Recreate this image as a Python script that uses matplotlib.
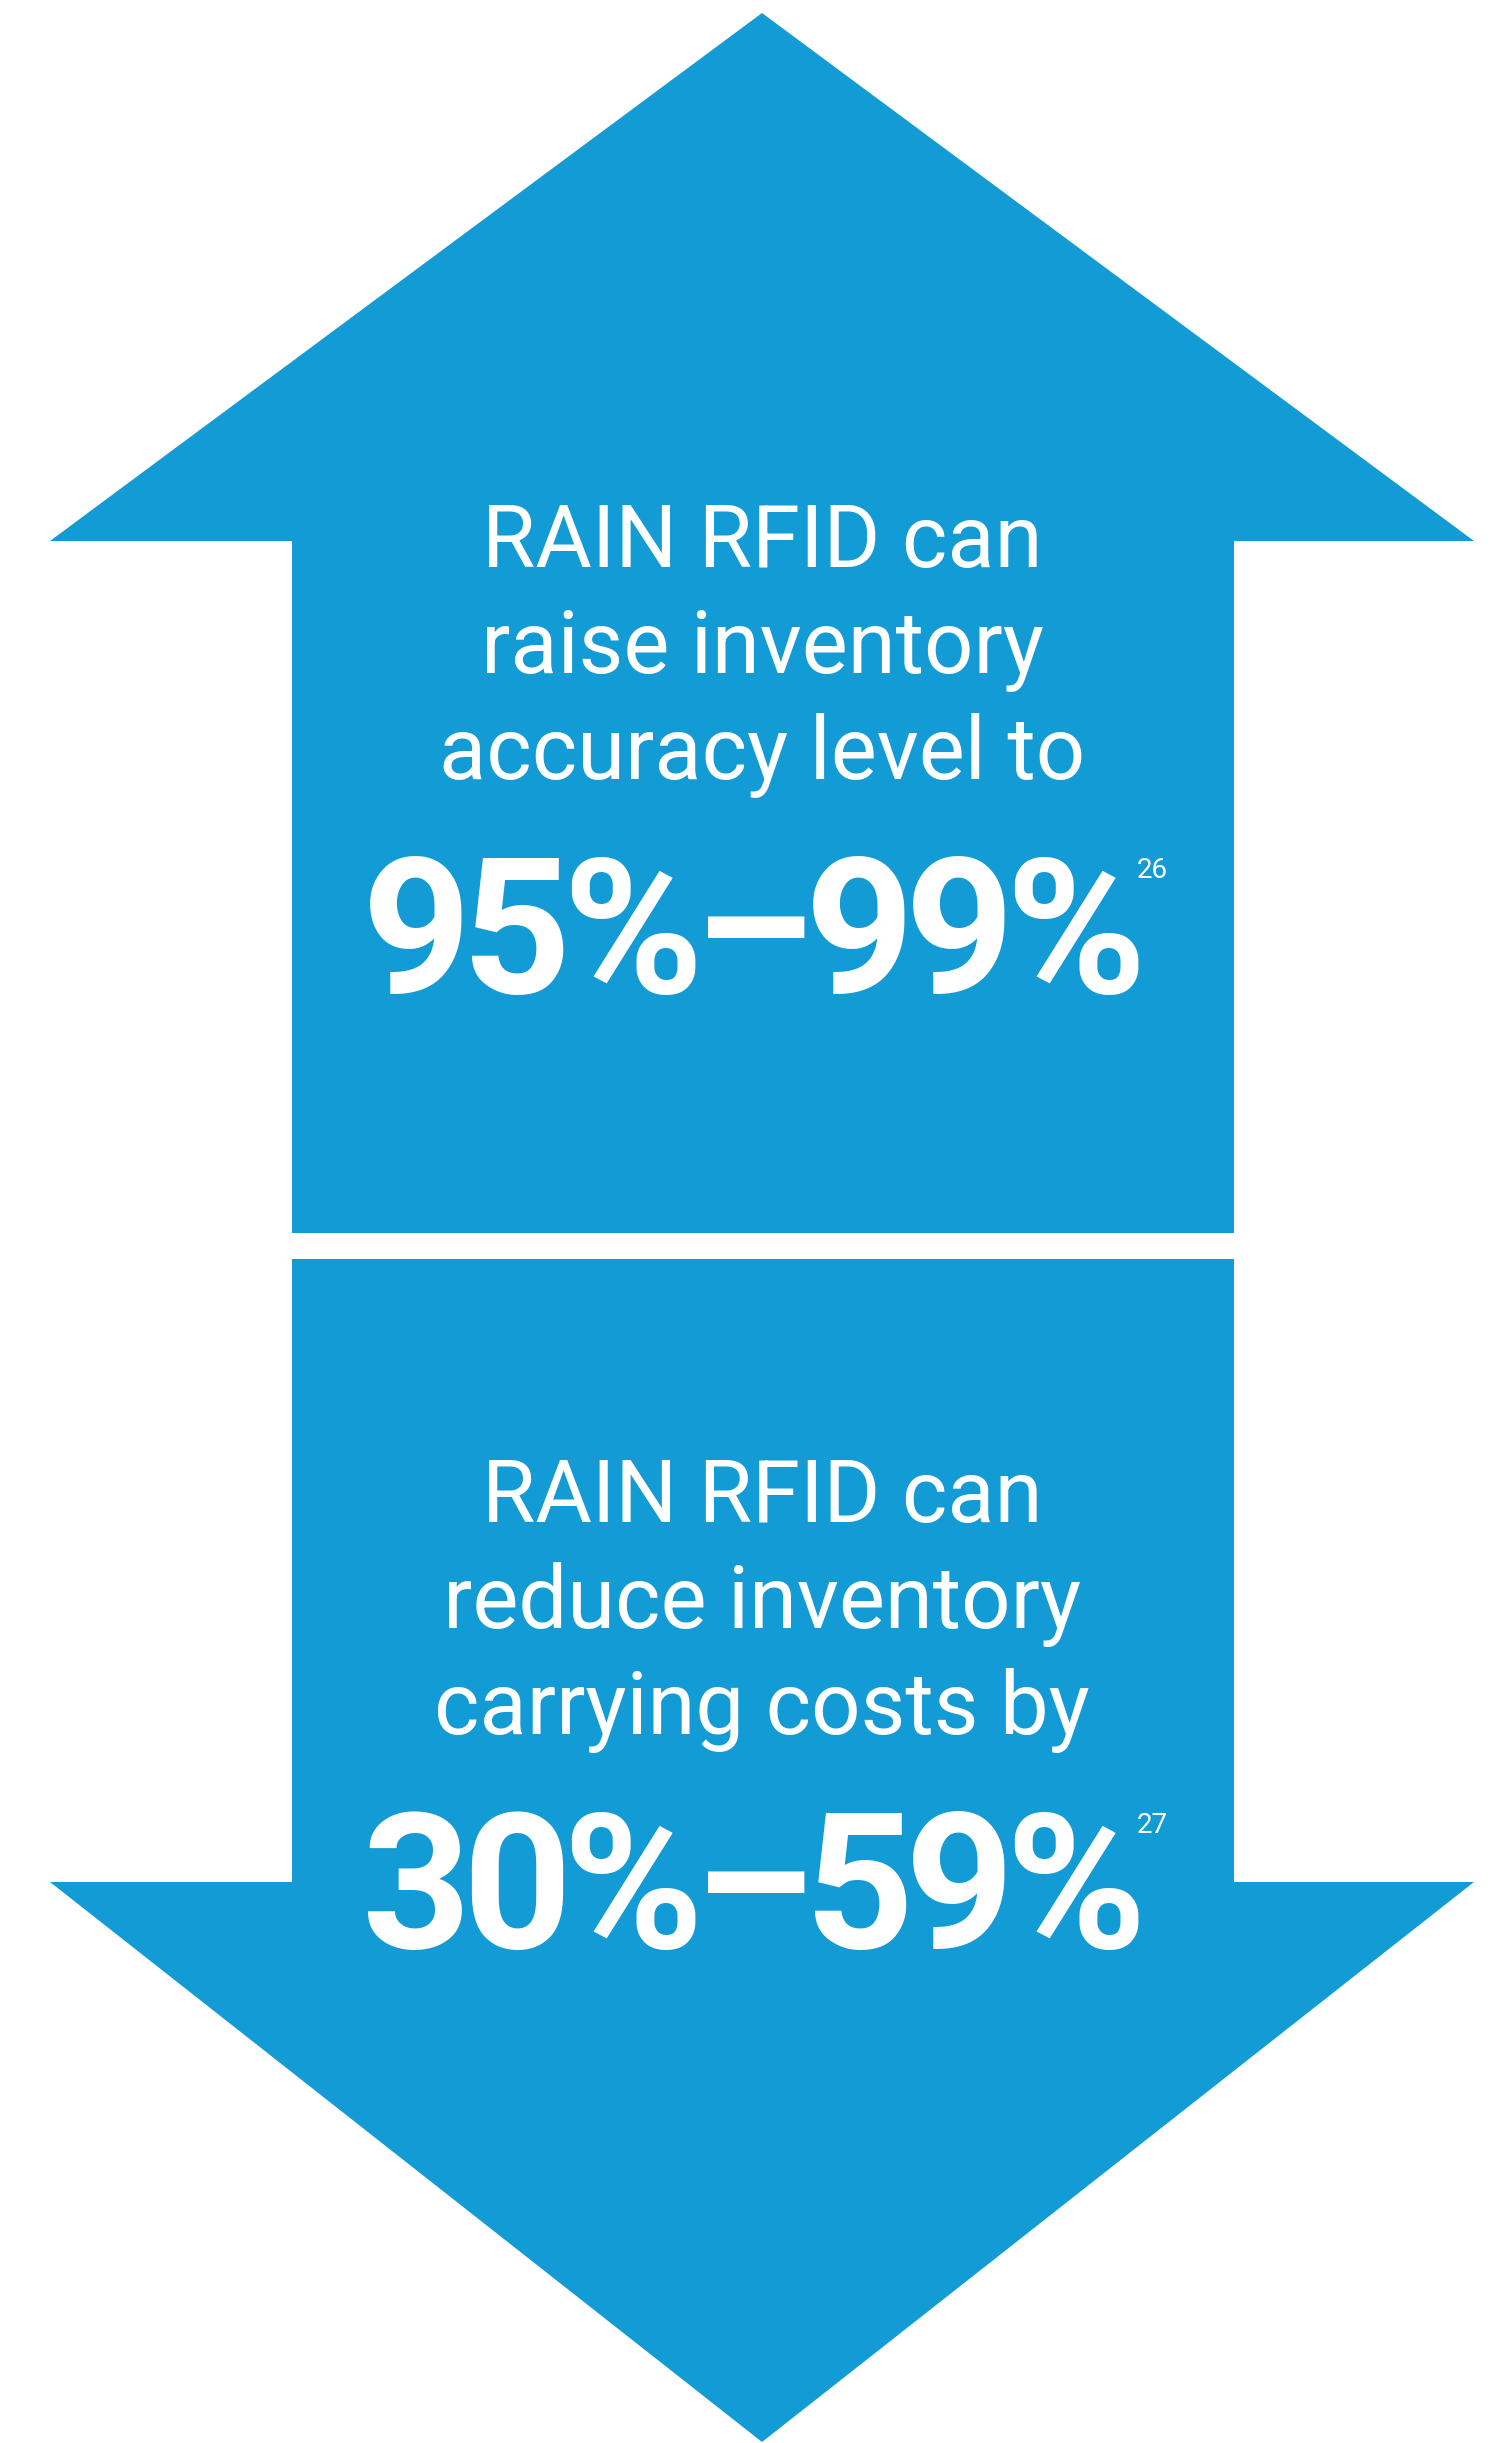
import matplotlib
matplotlib.use("Agg")
import matplotlib.pyplot as plt
from matplotlib.patches import Polygon

# text content
up_lines = ["RAIN RFID can", "raise inventory", "accuracy level to"]
up_range = [95, 99]
up_note = "26"

down_lines = ["RAIN RFID can", "reduce inventory", "carrying costs by"]
down_range = [30, 59]
down_note = "27"

BLUE = "#129BD4"
W, H = 1501, 2443

fig = plt.figure(figsize=(W / 100, H / 100), dpi=100)
ax = fig.add_axes([0, 0, 1, 1])
ax.set_xlim(0, W)
ax.set_ylim(H, 0)
ax.axis("off")

# arrow shapes (pixel layout)
cx = 762
left, right = 50, 1474
shaft_l, shaft_r = 292, 1234

up = [(cx, 13), (right, 541), (shaft_r, 541), (shaft_r, 1233),
      (shaft_l, 1233), (shaft_l, 541), (left, 541)]
down = [(shaft_l, 1259), (shaft_r, 1259), (shaft_r, 1882), (right, 1882),
        (cx, 2442), (left, 1882), (shaft_l, 1882)]
ax.add_patch(Polygon(up, closed=True, fc=BLUE, ec="none"))
ax.add_patch(Polygon(down, closed=True, fc=BLUE, ec="none"))

fig.canvas.draw()
renderer = fig.canvas.get_renderer()
inv = ax.transData.inverted()


def big_number(s, xc, y, track=-9):
    # bold figure drawn glyph by glyph so the tracking can be tightened
    kw = dict(va="baseline", ha="left", color="white", fontsize=137,
              family="Roboto", fontweight="bold")
    widths = []
    for ch in s:
        t = ax.text(0, y, ch, **kw)
        bb = t.get_window_extent(renderer).transformed(inv)
        widths.append(abs(bb.x1 - bb.x0))
        t.remove()
    total = sum(widths) + track * (len(s) - 1)
    x = xc - total / 2
    for ch, w in zip(s, widths):
        ax.text(x, y, ch, **kw)
        x += w + track
    return x - track


def block(lines, rng, note, y0, y_num):
    for i, s in enumerate(lines):
        ax.text(cx, y0 + i * 106, s, ha="center", va="baseline",
                color="white", fontsize=62.5, family="Roboto")
    x1 = big_number(f"{rng[0]}%–{rng[1]}%", 754, y_num)
    ax.text(x1 - 9, y_num - 136, note, ha="left", va="top",
            color="white", fontsize=20, family="Roboto")


block(up_lines, up_range, up_note, 567, 993)
block(down_lines, down_range, down_note, 1522, 1948)

fig.savefig("out.png", dpi=100, facecolor="white")
